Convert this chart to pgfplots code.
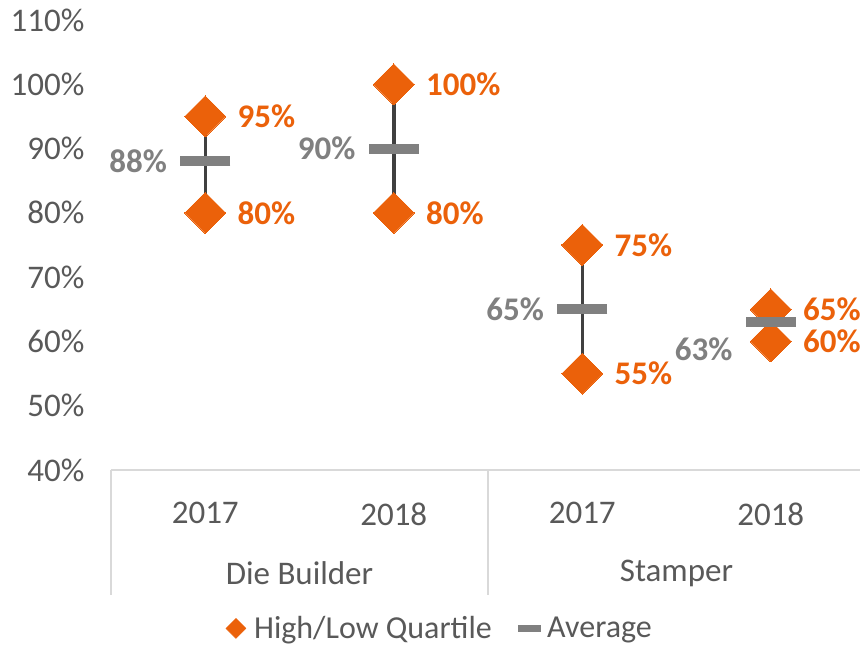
\documentclass[border=0pt]{standalone}
\usepackage{fontspec}
\setmainfont{Carlito}
\usepackage{pgfplots}
\pgfplotsset{compat=1.18}
\definecolor{orng}{RGB}{235,97,10}
\definecolor{avgc}{RGB}{128,128,128}
\definecolor{txt}{RGB}{89,89,89}
\definecolor{axl}{RGB}{217,217,217}
\definecolor{rng}{RGB}{64,64,64}
\newcommand{\bigf}{\fontsize{33bp}{40bp}\selectfont}
\newcommand{\legf}{\fontsize{32bp}{38bp}\selectfont}
\begin{document}
\begin{tikzpicture}
\useasboundingbox (0,0) rectangle (860bp,648bp);
\begin{axis}[
  at={(111bp,178bp)}, anchor=south west,
  scale only axis, width=754bp, height=450bp,
  xmin=0.5, xmax=4.5, ymin=40, ymax=110,
  clip=false,
  axis x line*=bottom, axis y line*=left,
  y axis line style={draw=none},
  x axis line style={draw=axl, line width=1.2bp, -},
  major tick length=0pt,
  xtick={1,2,3,4}, xticklabels={2017,2018,2017,2018},
  ytick={40,50,...,110},
  yticklabel={\pgfmathprintnumber{\tick}\%},
  /pgf/number format/assume math mode=true,
  tick label style={font=\bigf, text=txt},
  yticklabel style={anchor=east, xshift=-23bp},
  xticklabel style={anchor=north, yshift=-29bp},
  legend style={at={(0.436,-0.352)}, anchor=center, draw=none, fill=none,
    legend columns=2, font=\legf, text=txt,
    /tikz/every even column/.append style={column sep=24bp}},
]
% ranges
\addplot[rng, line width=3.5bp, forget plot] coordinates {(1,80) (1,95)};
\addplot[rng, line width=3.5bp, forget plot] coordinates {(2,80) (2,100)};
\addplot[rng, line width=3.5bp, forget plot] coordinates {(3,55) (3,75)};
\addplot[rng, line width=3.5bp, forget plot] coordinates {(4,60) (4,65)};
% high/low quartiles
\addplot[only marks, mark=square*, mark size=14.5bp,
  mark options={rotate=45, draw=orng, fill=orng, line width=0pt},
  point meta=y,
  nodes near coords={\pgfmathprintnumber[fixed,precision=0]{\pgfplotspointmeta}\%},
  every node near coord/.append style={anchor=west, xshift=29bp, font=\bigf\bfseries, text=orng},
  legend image code/.code={\fill[orng] (0bp,0bp) -- (10bp,10bp) -- (20bp,0bp) -- (10bp,-10bp) -- cycle;
     \path (26bp,0bp);}
] coordinates {(1,95) (1,80) (2,100) (2,80) (3,75) (3,55) (4,65) (4,60)};
\addlegendentry{High/Low Quartile}
% averages
\addplot[only marks, mark=-, mark size=25bp,
  mark options={draw=avgc, line width=10bp},
  point meta=y,
  nodes near coords={\pgfmathprintnumber[fixed,precision=0]{\pgfplotspointmeta}\%},
  every node near coord/.append style={anchor=east, xshift=-30bp, font=\bigf\bfseries, text=avgc},
  legend image code/.code={\fill[avgc] (0bp,-3bp) rectangle (22bp,3bp); \path (27bp,0bp);}
] coordinates {(1,88) (2,90) (3,65)};
\addlegendentry{Average}
\addplot[only marks, mark=-, mark size=25bp, forget plot,
  mark options={draw=avgc, line width=10bp},
  point meta=y,
  nodes near coords={\pgfmathprintnumber[fixed,precision=0]{\pgfplotspointmeta}\%},
  every node near coord/.append style={anchor=east, xshift=-30bp, yshift=-27bp, font=\bigf\bfseries, text=avgc},
] coordinates {(4,63)};
% category separators and group labels
\draw[axl, line width=1.2bp] (axis cs:0.5,40) -- ([yshift=-125bp]axis cs:0.5,40);
\draw[axl, line width=1.2bp] (axis cs:2.5,40) -- ([yshift=-125bp]axis cs:2.5,40);
\draw[axl, line width=1.2bp] (axis cs:4.5,40) -- ([yshift=-125bp]axis cs:4.5,40);
\node[font=\bigf, text=txt] at ([yshift=-103bp]axis cs:1.5,40) {Die Builder};
\node[font=\bigf, text=txt] at ([yshift=-103bp]axis cs:3.5,40) {Stamper};
\end{axis}
\end{tikzpicture}
\end{document}
